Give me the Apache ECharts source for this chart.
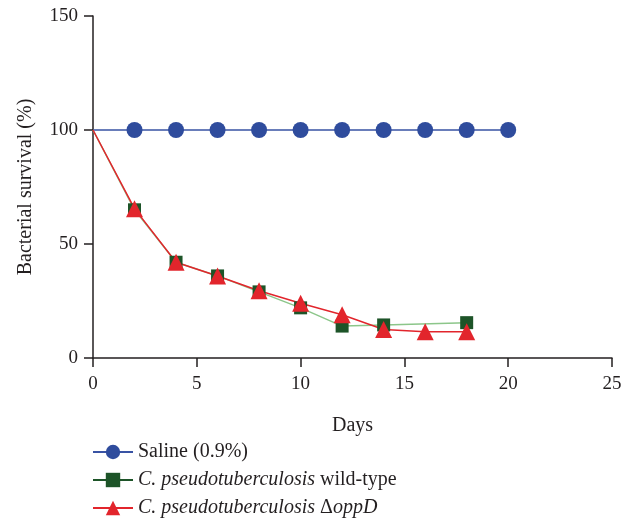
<!DOCTYPE html>
<html>
<head>
<meta charset="utf-8">
<script src="https://cdn.jsdelivr.net/npm/echarts@6/dist/echarts.min.js"></script>
<style>
  html, body { margin: 0; padding: 0; background: #fff; }
  #chart { width: 633px; height: 520px; }
</style>
</head>
<body>
<div id="chart"></div>
<script>
// data
const salineDays = [0, 2, 4, 6, 8, 10, 12, 14, 16, 18, 20];
const salineValues = [100, 100, 100, 100, 100, 100, 100, 100, 100, 100, 100];
const wildTypeDays = [0, 2, 4, 6, 8, 10, 12, 14, 18];
const wildTypeValues = [100, 65, 42, 36, 29, 22, 14, 14.5, 15.5];
const oppDDays = [0, 2, 4, 6, 8, 10, 12, 14, 16, 18];
const oppDValues = [100, 65.5, 42, 36, 29.5, 24, 19, 12.5, 11.5, 11.5];
const xTicks = [0, 5, 10, 15, 20, 25];
const yTicks = [0, 50, 100, 150];

const FONT = '"Liberation Serif", "DejaVu Serif", serif';
const INK = '#231f20';

const pairs = (xs, ys) => xs.map((x, i) => [x, ys[i]]);

const makeSeries = (name, data, color, lineColor, symbol, size) => ({
  name,
  type: 'line',
  data,
  symbol,
  // no marker on the day-0 starting point
  symbolSize: (value, params) => (params.dataIndex === 0 ? 0 : size),
  showAllSymbol: true,
  itemStyle: { color },
  lineStyle: { color: lineColor, width: 1.5 },
  emphasis: { disabled: true },
});

const chart = echarts.init(document.getElementById('chart'));

chart.setOption({
  backgroundColor: '#fff',
  animation: false,
  grid: { left: 93, right: 21, top: 16, bottom: 162 },
  legend: {
    orient: 'vertical',
    left: 92,
    top: 442,
    padding: 0,
    itemWidth: 40,
    itemHeight: 18,
    itemGap: 8,
    data: [
      { name: 'Saline (0.9%)' },
      { name: 'wt', lineStyle: { color: '#1d5428' } },
      { name: 'oppD' },
    ],
    textStyle: {
      fontFamily: FONT,
      fontSize: 20,
      color: INK,
      rich: {
        i: { fontFamily: FONT, fontSize: 20, fontStyle: 'italic', color: INK },
        n: { fontFamily: FONT, fontSize: 20, color: INK },
      },
    },
    formatter: (name) => {
      if (name === 'wt') return '{i|C. pseudotuberculosis}{n| wild-type}';
      if (name === 'oppD') return '{i|C. pseudotuberculosis}{n| \u0394}{i|oppD}';
      return '{n|' + name + '}';
    },
  },
  xAxis: {
    type: 'value',
    min: 0,
    max: 25,
    interval: 5,
    name: 'Days',
    nameLocation: 'middle',
    nameGap: 58,
    nameTextStyle: { fontFamily: FONT, fontSize: 20, color: INK },
    axisLine: { onZero: false, lineStyle: { color: INK, width: 1.5 } },
    axisTick: { show: true, length: 9, lineStyle: { color: INK, width: 1.5 } },
    axisLabel: {
      fontFamily: FONT, fontSize: 19, color: INK, margin: 17,
      customValues: xTicks,
    },
    splitLine: { show: false },
  },
  yAxis: {
    type: 'value',
    min: 0,
    max: 150,
    interval: 50,
    name: 'Bacterial survival (%)',
    nameLocation: 'middle',
    nameGap: 57,
    nameTextStyle: { fontFamily: FONT, fontSize: 20, color: INK },
    axisLine: { show: true, lineStyle: { color: INK, width: 1.5 } },
    axisTick: { show: true, length: 9, lineStyle: { color: INK, width: 1.5 } },
    axisLabel: {
      fontFamily: FONT, fontSize: 19, color: INK, margin: 15,
      customValues: yTicks,
    },
    splitLine: { show: false },
  },
  series: [
    makeSeries('Saline (0.9%)', pairs(salineDays, salineValues), '#2f4c9d', '#3953a4', 'circle', 16),
    makeSeries('wt', pairs(wildTypeDays, wildTypeValues), '#1d5428', '#8cc68a', 'rect', 13),
    makeSeries('oppD', pairs(oppDDays, oppDValues), '#e2252c', '#e2252c', 'triangle', 17),
  ],
});
</script>
</body>
</html>
